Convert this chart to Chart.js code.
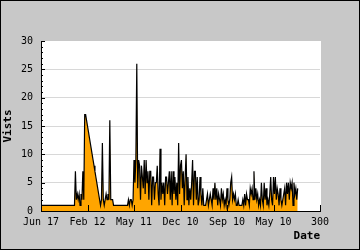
<!DOCTYPE html>
<html>
<head>
<meta charset="utf-8">
<script src="https://cdn.jsdelivr.net/npm/chart.js@4"></script>
<style>
  html, body { margin: 0; padding: 0; background: #c8c8c8; }
  #wrap { width: 360px; height: 250px; }
</style>
</head>
<body>
<div id="wrap"><canvas id="visits-chart" width="360" height="250"></canvas></div>
<script>
// day index 0..276, visits per day
const visits = [
  1,1,1,1,1,1,1,1,1,1, 1,1,1,1,1,1,1,1,1,1,
  1,1,1,1,1,1,1,1,1,1, 1,1,1,1,1,1,1,7,2,3,
  2,3,1,3,2,7,2,17,17,16, 15,14,13,12,11,10,9,8,7,6,
  5,4,3,2,1,2,12,2,1,2, 3,2,3,2,16,2,2,2,1,1,
  1,1,1,1,1,1,1,1,1,1, 1,1,1,1,2,1,2,2,1,2,
  9,5,9,26,4,9,8,2,8,6, 4,9,3,9,5,7,2,7,7,1,
  6,6,2,5,5,8,3,1,11,2, 5,3,5,1,6,6,3,5,7,2,
  7,1,7,3,6,2,5,1,12,3, 8,9,4,7,1,6,10,2,6,1,
  4,2,5,9,1,7,7,2,6,1, 2,6,3,1,4,1,1,1,2,3,
  1,2,3,2,1,4,2,5,2,4, 1,3,2,1,4,2,3,1,2,1,
  4,2,1,2,5,6,2,3,2,3, 1,1,2,1,1,1,1,2,1,3,
  1,3,2,2,1,4,3,4,2,7, 2,4,2,3,1,2,1,5,2,1,
  5,2,4,1,2,1,3,6,2,1, 6,3,6,2,4,3,1,4,2,1,
  2,3,4,1,5,3,5,2,5,4, 5,1,5,3,4,2,4
];
const xTickLabels = ['Jun 17', 'Feb 12', 'May 11', 'Dec 10', 'Sep 10', 'May 10', '300'];
const xStep = 50;

const monoFont = 'DejaVu Sans Mono';

// grey page, white plot area, black frame
const frame = {
  id: 'frame',
  beforeDraw(chart) {
    const {ctx, chartArea: a, width, height} = chart;
    ctx.save();
    ctx.fillStyle = '#c8c8c8';
    ctx.fillRect(0, 0, width, height);
    ctx.fillStyle = '#ffffff';
    ctx.fillRect(a.left, a.top, a.right - a.left + 1, a.bottom - a.top);
    ctx.restore();
  },
  afterDraw(chart) {
    const ctx = chart.ctx;
    ctx.save();
    ctx.strokeStyle = '#000';
    ctx.lineWidth = 1;
    ctx.strokeRect(0.5, 0.5, chart.width - 1, chart.height - 1);
    ctx.restore();
  }
};

// tick marks point inward, minor ones on every unit of y
const innerTicks = {
  id: 'innerTicks',
  afterDatasetsDraw(chart) {
    const {ctx, chartArea: a, scales: {x, y}} = chart;
    ctx.save();
    ctx.strokeStyle = '#000';
    ctx.lineWidth = 1;
    ctx.beginPath();
    for (let v = y.min; v <= y.max; v++) {
      const py = Math.round(y.getPixelForValue(v)) + 0.5;
      ctx.moveTo(a.left, py);
      ctx.lineTo(a.left + (v % 5 === 0 ? 4 : 2), py);
    }
    for (let v = x.min; v <= x.max; v += xStep) {
      const px = Math.round(x.getPixelForValue(v)) + 0.5;
      ctx.moveTo(px, a.bottom);
      ctx.lineTo(px, a.bottom - 6);
    }
    ctx.stroke();
    ctx.restore();
  }
};

const ctx = document.getElementById('visits-chart').getContext('2d');
new Chart(ctx, {
  type: 'line',
  data: {
    datasets: [{
      label: 'Vists',
      data: visits.map((v, i) => ({x: i, y: v})),
      borderColor: '#000',
      borderWidth: 1.2,
      backgroundColor: '#ffa500',
      fill: 'origin',
      pointRadius: 0,
      tension: 0
    }]
  },
  options: {
    responsive: false,
    animation: false,
    layout: { padding: { top: 41, right: 40, left: 0, bottom: 0 } },
    plugins: {
      legend: { display: false },
      tooltip: { enabled: false }
    },
    scales: {
      x: {
        type: 'linear',
        min: 0,
        max: 300,
        afterFit: s => { s.height = 39; },
        grid: { display: false, drawTicks: false, tickLength: 0 },
        border: { display: true, color: '#000', width: 1 },
        ticks: {
          stepSize: xStep,
          autoSkip: false,
          maxRotation: 0,
          padding: 5,
          color: '#000',
          font: { family: monoFont, size: 10 },
          callback: v => xTickLabels[v / xStep]
        },
        title: {
          display: true,
          text: 'Date',
          align: 'end',
          color: '#000',
          font: { family: monoFont, size: 11, weight: 'bold' },
          padding: { top: 0, bottom: 7 }
        }
      },
      y: {
        min: 0,
        max: 30,
        afterFit: s => { s.width = 41; },
        grid: {
          drawTicks: false,
          tickLength: 0,
          color: c => (c.tick.value > 0 && c.tick.value < 30) ? '#d8d8d8' : 'rgba(0,0,0,0)'
        },
        border: { display: true, color: '#000', width: 1 },
        ticks: {
          stepSize: 5,
          padding: 8,
          color: '#000',
          font: { family: monoFont, size: 10 }
        },
        title: {
          display: true,
          text: 'Vists',
          color: '#000',
          font: { family: monoFont, size: 11, weight: 'bold' },
          padding: { top: 2, bottom: 0 }
        }
      }
    }
  },
  plugins: [frame, innerTicks]
});
</script>
</body>
</html>
